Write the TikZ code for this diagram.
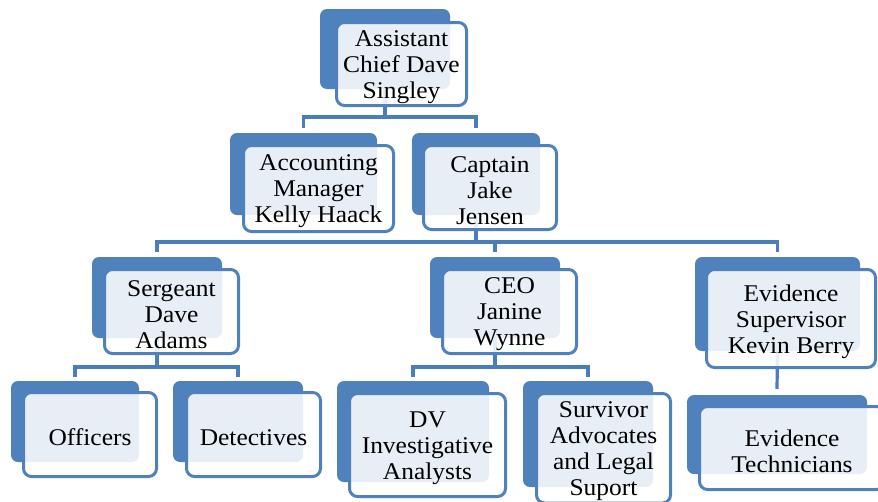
\documentclass[tikz,border=0pt]{standalone}
\usepackage{fontspec}
\setmainfont{Liberation Serif}[FakeStretch=1.06]
\usetikzlibrary{fit}
\definecolor{accent}{HTML}{4F81BD}
\definecolor{linec}{HTML}{4A7EBB}
\begin{document}
\begin{tikzpicture}[x=1pt,y=-1pt,
  backbox/.style={fill=accent, rounded corners=7pt, inner sep=0pt, outer sep=0pt},
  frontbox/.style={draw=accent, line width=3pt, fill=white, fill opacity=0.87,
    rounded corners=8pt, inner sep=0pt, outer sep=0pt},
  boxtext/.style={align=center, inner sep=0pt, yshift=-3pt, font=\fontsize{24}{26}\selectfont, text=black},
  conn/.style={draw=linec, line width=3.2pt}]
\useasboundingbox (0,0) rectangle (878,501);
\clip (0,0) rectangle (878,501);

% back boxes
\node[backbox, fit={(320,9) (450,89)}] (top-b) {};
\node[backbox, fit={(230,133) (377,215)}] (acc-b) {};
\node[backbox, fit={(412,133) (540,215)}] (cap-b) {};
\node[backbox, fit={(92,257) (222,338)}] (sgt-b) {};
\node[backbox, fit={(430,257) (560,338)}] (ceo-b) {};
\node[backbox, fit={(695,257) (860,351)}] (evs-b) {};
\node[backbox, fit={(11,381) (139,462)}] (off-b) {};
\node[backbox, fit={(173,381) (303,462)}] (det-b) {};
\node[backbox, fit={(337,381) (489,482)}] (dv-b) {};
\node[backbox, fit={(523,381) (653,487)}] (sur-b) {};
\node[backbox, fit={(687,395) (867,474)}] (evt-b) {};

% bus levels
\coordinate (bus1) at (0,117);
\coordinate (bus2) at (0,242);
\coordinate (bus3) at (0,367);

% connectors
\draw[conn] (top-b.south) -- (top-b.south |- bus1) -| ([yshift=5pt]acc-b.north);
\draw[conn] (top-b.south) -- (top-b.south |- bus1) -| ([yshift=5pt]cap-b.north);
\draw[conn] (cap-b.south) -- (cap-b.south |- bus2) -| ([yshift=5pt]sgt-b.north);
\draw[conn] (cap-b.south) -- (cap-b.south |- bus2) -| ([yshift=5pt]ceo-b.north);
\draw[conn] (cap-b.south) -- (cap-b.south |- bus2) -| ([yshift=5pt]evs-b.north);
\draw[conn] (sgt-b.south) -- (sgt-b.south |- bus3) -| ([yshift=4pt]off-b.north);
\draw[conn] (sgt-b.south) -- (sgt-b.south |- bus3) -| ([yshift=4pt]det-b.north);
\draw[conn] (ceo-b.south) -- (ceo-b.south |- bus3) -| ([yshift=4pt]dv-b.north);
\draw[conn] (ceo-b.south) -- (ceo-b.south |- bus3) -| ([yshift=4pt]sur-b.north);
\draw[conn] (evs-b.south) -- ([yshift=6pt]evt-b.north);

% front boxes
\node[frontbox, fit={(336.5,22.5) (466.5,105.5)}] (top) {};
\node[frontbox, fit={(243.5,145.5) (393.5,231.5)}] (acc) {};
\node[frontbox, fit={(423.5,145.5) (556.5,229.5)}] (cap) {};
\node[frontbox, fit={(104.5,269.5) (238.5,353.5)}] (sgt) {};
\node[frontbox, fit={(442.5,269.5) (576.5,353.5)}] (ceo) {};
\node[frontbox, fit={(706.5,269.5) (875.5,367.5)}] (evs) {};
\node[frontbox, fit={(23.5,392.5) (156.5,476.5)}] (off) {};
\node[frontbox, fit={(186.5,392.5) (320.5,476.5)}] (det) {};
\node[frontbox, fit={(349.5,393.5) (505.5,496.5)}] (dv) {};
\node[frontbox, fit={(536.5,393.5) (670.5,503)}] (sur) {};
\node[frontbox, fit={(699.5,406.5) (884.5,489.5)}] (evt) {};

% texts
\node[boxtext] (top-t) at (top.center) {Assistant\\Chief Dave\\Singley};
\node[boxtext] (acc-t) at (acc.center) {Accounting\\Manager\\Kelly Haack};
\node[boxtext] (cap-t) at (cap.center) {Captain\\Jake\\Jensen};
\node[boxtext] (sgt-t) at (sgt.center) {Sergeant\\Dave\\Adams};
\node[boxtext] (ceo-t) at (ceo.center) {CEO\\Janine\\Wynne};
\node[boxtext] (evs-t) at (evs.center) {Evidence\\Supervisor\\Kevin Berry};
\node[boxtext] (off-t) at (off.center) {Officers};
\node[boxtext] (det-t) at (det.center) {Detectives};
\node[boxtext] (dv-t) at (dv.center) {DV\\Investigative\\Analysts};
\node[boxtext] (sur-t) at (sur.center) {Survivor\\Advocates\\and Legal\\Suport};
\node[boxtext] (evt-t) at (evt.center) {Evidence\\Technicians};
\end{tikzpicture}
\end{document}
